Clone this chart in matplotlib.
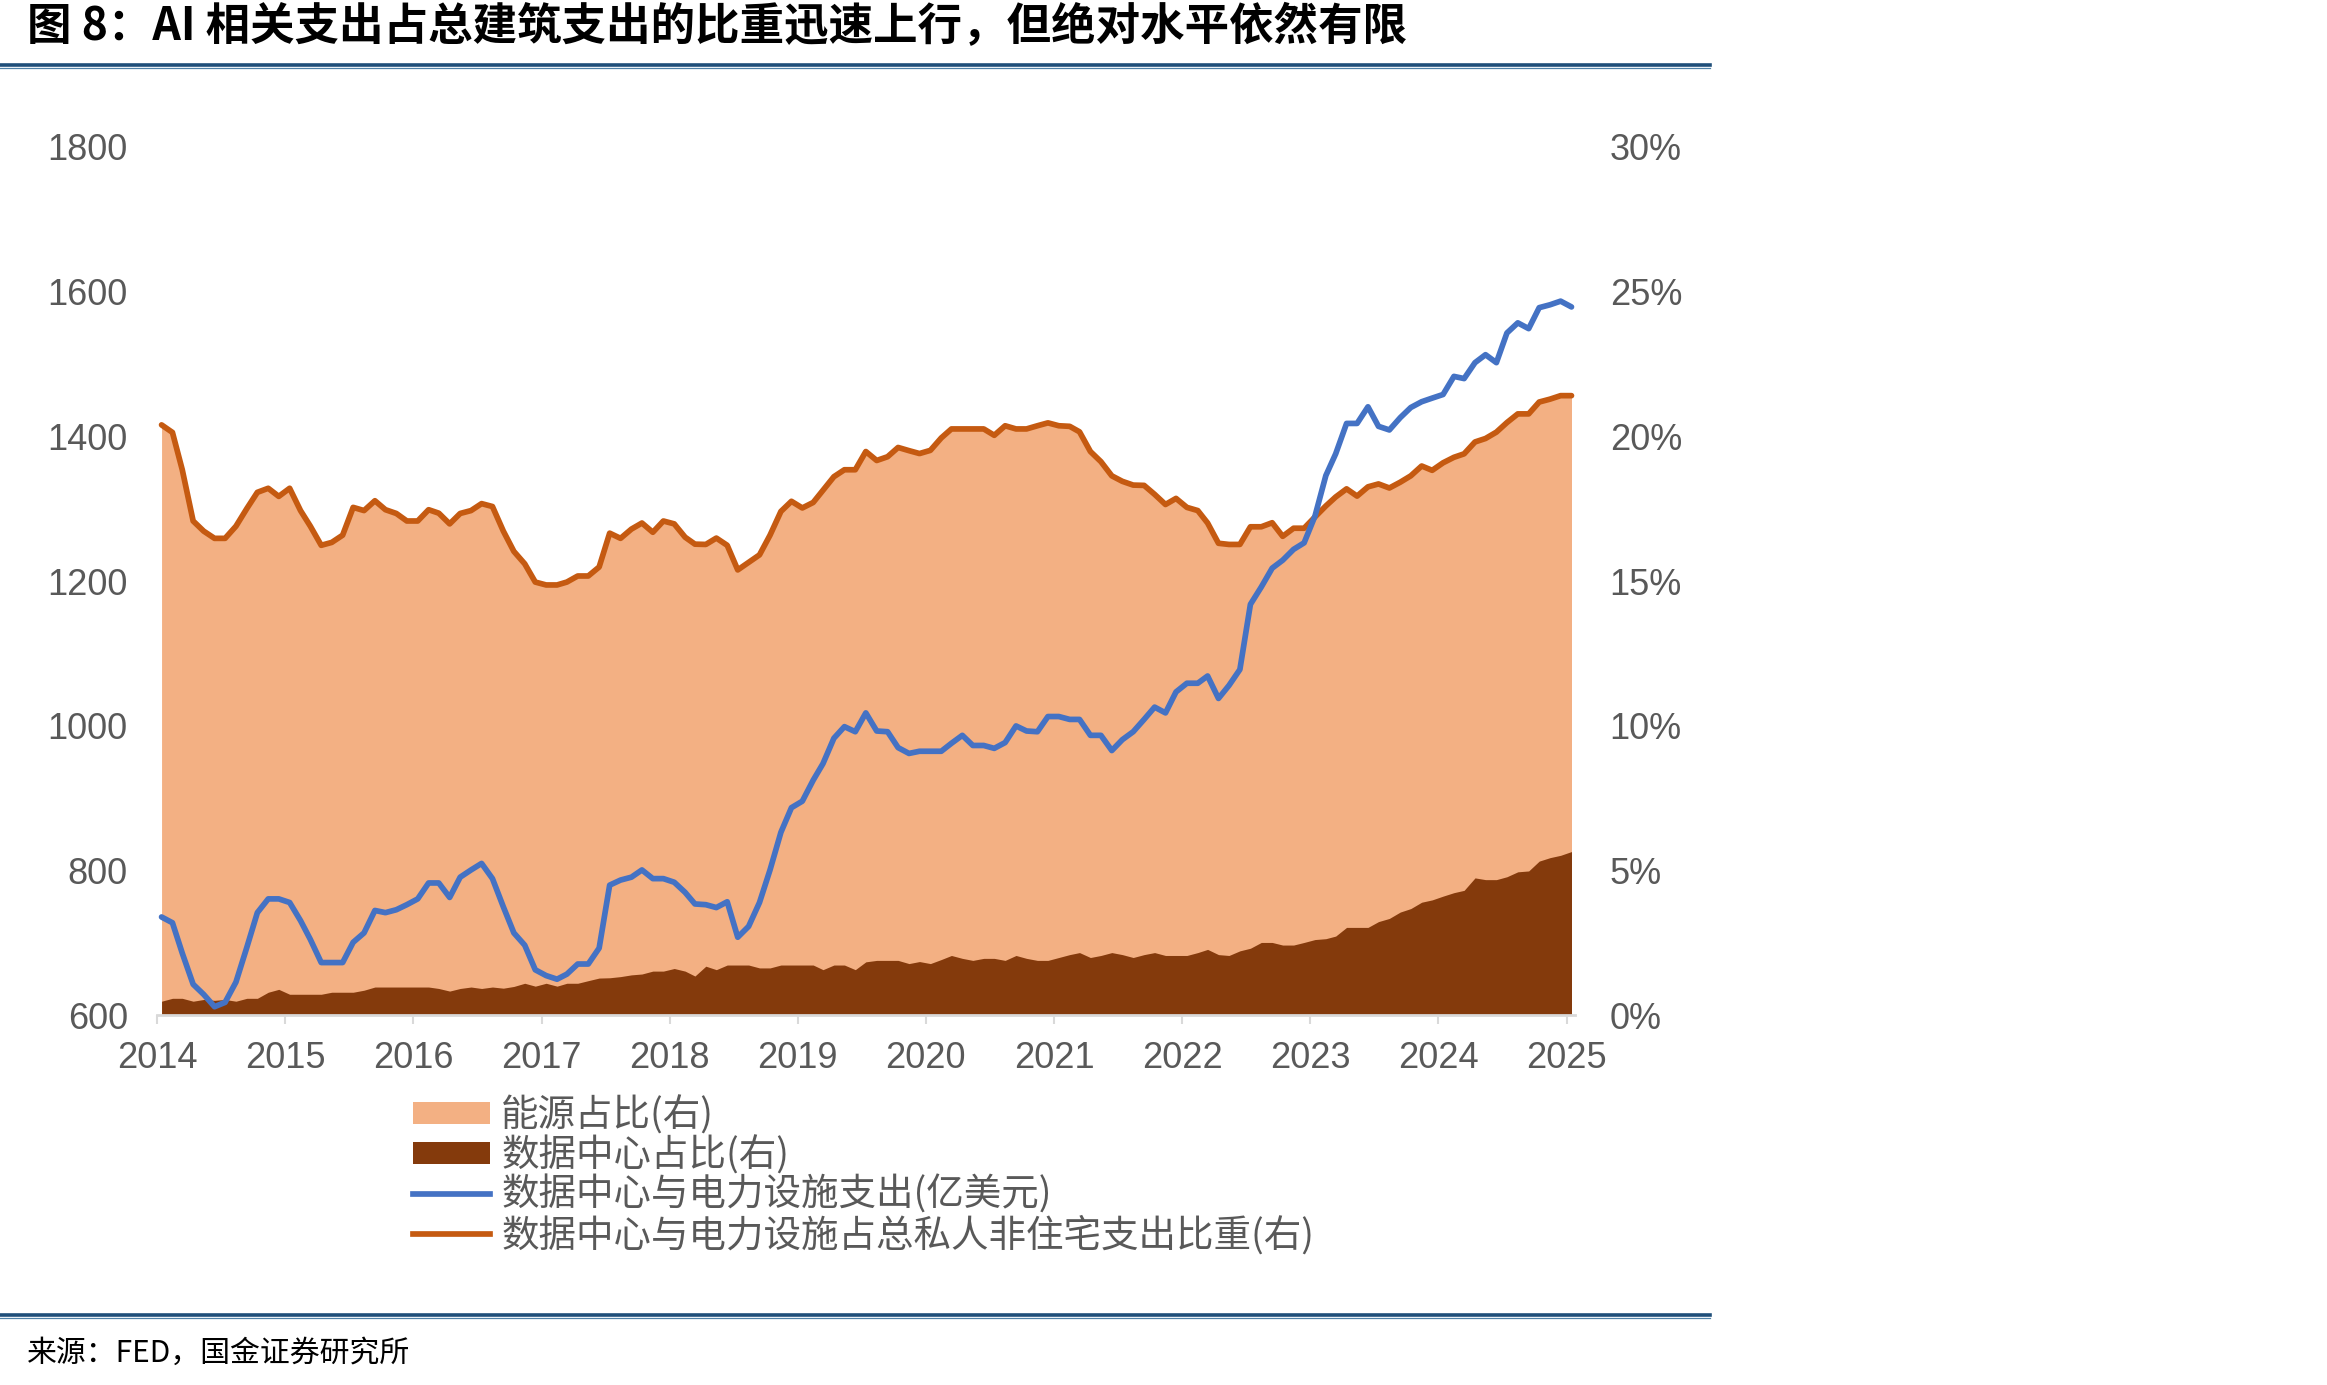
import numpy as np
import pandas as pd
import matplotlib
matplotlib.use('Agg')
import matplotlib.pyplot as plt
import matplotlib.dates as mdates
from matplotlib.patches import Patch
from matplotlib.lines import Line2D

plt.rcParams['font.family'] = ['Noto Sans CJK SC', 'DejaVu Sans']

# ---------------- data (monthly, Jan 2014 - Jan 2025) ----------------
dates = pd.date_range('2014-01-01', periods=133, freq='MS') + pd.Timedelta(days=13)

# 数据中心与电力设施支出 (亿美元, left axis)
spend = [
    736, 728, 686, 643, 629, 612, 618, 646, 694, 742, 761, 761,      # 2014
    756, 731, 705, 673, 673, 673, 701, 714, 745, 742, 746, 753,      # 2015
    761, 783, 783, 763, 791, 801, 810, 789, 750, 714, 697, 663,      # 2016
    655, 650, 657, 671, 671, 693, 780, 787, 791, 801, 789, 789,      # 2017
    784, 770, 754, 753, 749, 757, 708, 723, 756, 801, 853, 887,      # 2018
    896, 925, 948, 983, 999, 992, 1018, 993, 992, 970, 962, 965,     # 2019
    965, 965, 976, 987, 973, 973, 969, 977, 1000, 993, 992, 1013,    # 2020
    1013, 1009, 1009, 987, 987, 966, 981, 992, 1009, 1026, 1018, 1047,   # 2021
    1059, 1059, 1069, 1038, 1056, 1078, 1168, 1192, 1218, 1229, 1244, 1253,  # 2022
    1290, 1346, 1376, 1418, 1418, 1441, 1414, 1409, 1426, 1440, 1448, 1453,  # 2023
    1458, 1483, 1480, 1502, 1513, 1502, 1543, 1557, 1549, 1578, 1582, 1587,  # 2024
    1579,                                                               # 2025
]

# 数据中心与电力设施占总私人非住宅支出比重 (%, right axis)
total_share = [
    20.40, 20.14, 18.85, 17.08, 16.73, 16.48, 16.48, 16.90, 17.51, 18.07, 18.21, 17.93,
    18.21, 17.44, 16.90, 16.24, 16.34, 16.59, 17.55, 17.44, 17.78, 17.47, 17.34, 17.08,
    17.08, 17.47, 17.35, 16.98, 17.34, 17.44, 17.68, 17.58, 16.73, 16.03, 15.60, 14.97,
    14.87, 14.87, 14.97, 15.18, 15.18, 15.49, 16.66, 16.48, 16.80, 17.01, 16.69, 17.08,
    16.98, 16.52, 16.28, 16.27, 16.49, 16.24, 15.39, 15.65, 15.91, 16.59, 17.41, 17.76,
    17.53, 17.72, 18.14, 18.61, 18.85, 18.85, 19.48, 19.17, 19.30, 19.62, 19.51, 19.41,
    19.52, 19.95, 20.26, 20.26, 20.26, 20.26, 20.04, 20.37, 20.26, 20.26, 20.37, 20.47,
    20.37, 20.35, 20.16, 19.48, 19.13, 18.64, 18.45, 18.32, 18.31, 18.00, 17.65, 17.86,
    17.55, 17.44, 17.01, 16.31, 16.27, 16.27, 16.88, 16.88, 17.02, 16.55, 16.83, 16.83,
    17.22, 17.60, 17.91, 18.19, 17.94, 18.26, 18.36, 18.22, 18.42, 18.64, 18.98, 18.83,
    19.09, 19.28, 19.40, 19.81, 19.93, 20.15, 20.48, 20.78, 20.78, 21.19, 21.29, 21.41,
    21.41,
]

# 数据中心占比 (%, right axis)
dc_share = [
    0.49, 0.59, 0.59, 0.49, 0.55, 0.52, 0.55, 0.49, 0.59, 0.59, 0.80, 0.90,
    0.73, 0.73, 0.73, 0.73, 0.80, 0.80, 0.80, 0.87, 0.98, 0.98, 0.98, 0.98,
    0.98, 0.98, 0.93, 0.84, 0.93, 0.98, 0.93, 0.98, 0.94, 1.00, 1.11, 1.01,
    1.11, 1.01, 1.11, 1.11, 1.20, 1.29, 1.30, 1.34, 1.40, 1.43, 1.53, 1.53,
    1.62, 1.53, 1.36, 1.70, 1.58, 1.74, 1.74, 1.74, 1.64, 1.64, 1.74, 1.74,
    1.74, 1.74, 1.58, 1.74, 1.74, 1.58, 1.85, 1.90, 1.90, 1.90, 1.79, 1.86,
    1.79, 1.93, 2.07, 1.97, 1.90, 1.97, 1.97, 1.90, 2.07, 1.97, 1.90, 1.90,
    2.00, 2.10, 2.17, 2.00, 2.07, 2.17, 2.10, 2.00, 2.10, 2.17, 2.07, 2.07,
    2.07, 2.17, 2.28, 2.10, 2.07, 2.23, 2.32, 2.52, 2.52, 2.43, 2.43, 2.52,
    2.62, 2.65, 2.74, 3.04, 3.04, 3.04, 3.24, 3.35, 3.57, 3.69, 3.91, 3.99,
    4.12, 4.24, 4.32, 4.75, 4.69, 4.69, 4.79, 4.96, 4.99, 5.33, 5.45, 5.53,
    5.66,
]

left_ticks = [600, 800, 1000, 1200, 1400, 1600, 1800]
right_ticks = [0, 5, 10, 15, 20, 25, 30]

labels = ['能源占比(右)', '数据中心占比(右)', '数据中心与电力设施支出(亿美元)',
          '数据中心与电力设施占总私人非住宅支出比重(右)']
title = '图 8：AI 相关支出占总建筑支出的比重迅速上行，但绝对水平依然有限'
source = '来源：FED，国金证券研究所'

# ---------------- styling ----------------
C_ENERGY = '#F3B083'
C_DC = '#843A0C'
C_BLUE = '#4472C4'
C_ORANGE = '#C55A11'
C_TXT = '#595959'
C_AXIS = '#D9D9D9'
LW = 4.1

W, H = 2327, 1385
fig = plt.figure(figsize=(W / 100, H / 100), dpi=100)

x0, x1 = 157, 1575
y_top, y_bot = 147, 1015.4
rect = [x0 / W, 1 - y_bot / H, (x1 - x0) / W, (y_bot - y_top) / H]

ax_l = fig.add_axes(rect)
ax_r = ax_l.twinx()
ax_l.set_zorder(2)
ax_l.patch.set_visible(False)
ax_r.set_zorder(1)

d = np.array(dc_share)
t = np.array(total_share)

ax_r.fill_between(dates, 0, t, color=C_ENERGY, lw=0, label=labels[0])
ax_r.fill_between(dates, 0, d, color=C_DC, lw=0, label=labels[1])
ax_r.plot(dates, t, color=C_ORANGE, lw=LW, solid_joinstyle='round', solid_capstyle='round')
ax_l.plot(dates, spend, color=C_BLUE, lw=LW, solid_joinstyle='round', solid_capstyle='round')

ax_l.set_ylim(600, 1800)
ax_r.set_ylim(0, 30)
xmin = pd.Timestamp('2014-01-01')
xmax = pd.Timestamp('2025-01-01') + pd.Timedelta(days=23)
ax_l.set_xlim(xmin, xmax)

ax_l.set_yticks(left_ticks)
ax_r.set_yticks(right_ticks)
ax_r.set_yticklabels([f'{v}%' for v in right_ticks])

ax_l.xaxis.set_major_locator(mdates.YearLocator())
ax_l.xaxis.set_major_formatter(mdates.DateFormatter('%Y'))

for a in (ax_l, ax_r):
    for s in ('top', 'left', 'right'):
        a.spines[s].set_visible(False)
ax_r.spines['bottom'].set_visible(False)
ax_l.spines['bottom'].set_color(C_AXIS)
ax_l.spines['bottom'].set_linewidth(2.0)

tick_font = 'Liberation Sans'
ax_l.tick_params(axis='y', length=0, pad=21, labelsize=26, labelcolor=C_TXT,
                 labelfontfamily=tick_font)
ax_r.tick_params(axis='y', length=0, pad=25, labelsize=26, labelcolor=C_TXT,
                 labelfontfamily=tick_font)
ax_l.tick_params(axis='x', length=6.5, width=1.5, color=C_AXIS, pad=12,
                 labelsize=26, labelcolor=C_TXT, labelfontfamily=tick_font)

# legend
handles = [Patch(facecolor=C_ENERGY, edgecolor='none'),
           Patch(facecolor=C_DC, edgecolor='none'),
           Line2D([], [], color=C_BLUE, lw=LW),
           Line2D([], [], color=C_ORANGE, lw=LW)]
fig.legend(handles, labels, loc='upper left',
           bbox_to_anchor=(413 / W, 1 - 1096 / H), frameon=False,
           prop={'family': ['Noto Sans CJK SC', 'DejaVu Sans'], 'size': 27},
           labelcolor=C_TXT, labelspacing=0.02, handlelength=2.05,
           handleheight=0.5, handletextpad=0.3, borderpad=0, borderaxespad=0)

# title, rules and source
fig.text(27 / W, 1 - 27 / H, title, fontsize=32, fontweight='bold',
         ha='left', va='center', color='black')
for yy in (65, 1315):
    fig.add_artist(Line2D([0, 1710 / W], [1 - yy / H, 1 - yy / H],
                          transform=fig.transFigure, color='#1F4E79', lw=2.6))
    fig.add_artist(Line2D([0, 1710 / W], [1 - (yy + 2.5) / H, 1 - (yy + 2.5) / H],
                          transform=fig.transFigure, color='#4F81A8', lw=0.9))
fig.text(27 / W, 1 - 1353 / H, source, fontsize=21.5, ha='left', va='center',
         color='black')

fig.savefig('out.png', dpi=100)
